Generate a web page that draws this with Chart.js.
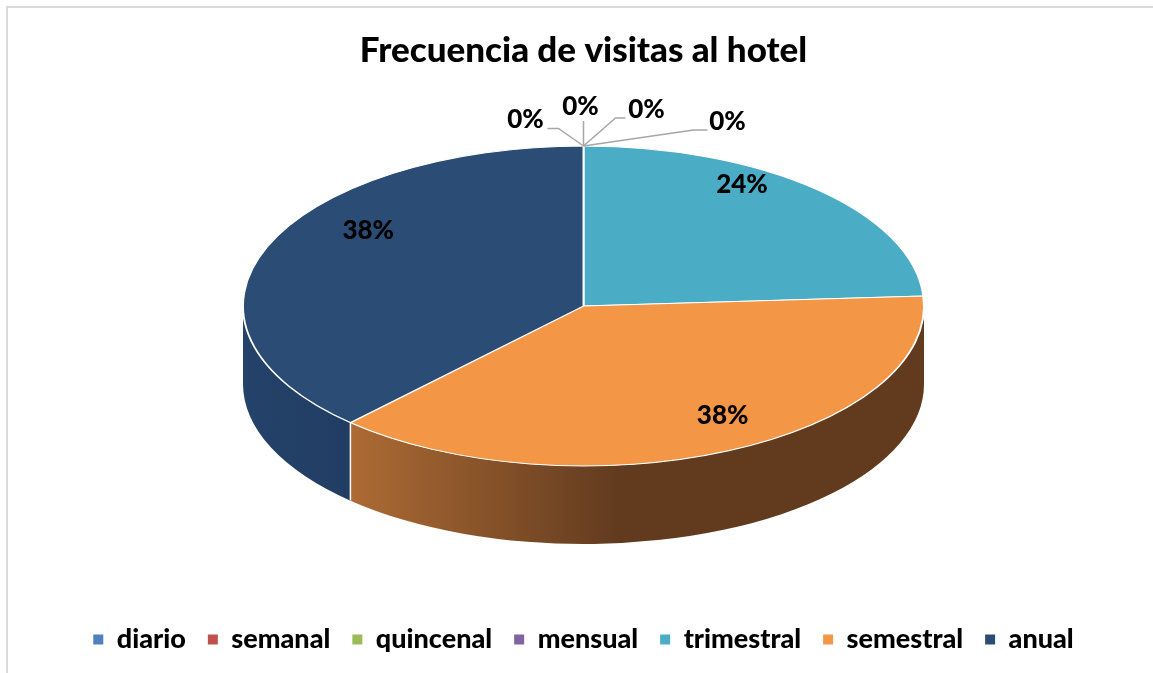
<!DOCTYPE html>
<html><head><meta charset="utf-8">
<script src="https://cdn.jsdelivr.net/npm/chart.js@4.4.1/dist/chart.umd.min.js"></script>
<style>
html,body{margin:0;padding:0;background:#fff;overflow:hidden;}
#wrap{position:absolute;left:0;top:0;width:1153px;height:673px;}
#frame{position:absolute;left:6px;top:6px;width:1170px;height:690px;border-left:2px solid #d9d9d9;border-top:2px solid #d9d9d9;pointer-events:none;}
</style></head><body>
<div id="wrap"><canvas id="c" width="1153" height="673"></canvas></div>
<div id="frame"></div>
<script>
// ---- data ----
const titleText = 'Frecuencia de visitas al hotel';
const categories = ['diario', 'semanal', 'quincenal', 'mensual', 'trimestral', 'semestral', 'anual'];
const values = [0, 0, 0, 0, 24, 38, 38];
const topColors = ['#4F81BD', '#C0504D', '#9BBB59', '#8064A2', '#4BACC6', '#F39646', '#2B4C74'];
const sideLight = ['#3F6797', '#9A403E', '#7C9647', '#665082', '#3C8A9E', '#CB7E3D', '#24426A'];
const sideDark  = ['#2A4566', '#672B29', '#536430', '#443657', '#285C6A', '#623B1F', '#1A314F'];

// ---- layout (not data) ----
const GEOM = { rx: 340.5, ry: 160, depth: 78, centerShift: -36 };
// label placement: perspective-like factors for back (upper) and front (lower) half
const LABEL = { persp: -28, backX: 0.68, backY: 0.80, frontX: 0.96, frontY: 0.95 };
const zeroLeaders = [ [[-25,-17.5],[-36,-17.5]], [[0,-25]], [[32,-28],[42,-28]], [[110,-16],[124,-16]] ];
const zeroLabelPos = [[-58,-26],[-3,-39.5],[63,-36],[144,-24]];
const FONT = 'Lato';
const WEIGHT = '900';

const tilt3d = {
  id: 'tilt3d',
  beforeDatasetsDraw(chart) {
    const meta = chart.getDatasetMeta(0);
    const a0 = meta.data[0];
    const r = a0.outerRadius;
    const ex = a0.x, ey = a0.y + GEOM.centerShift;
    const rx = GEOM.rx, ry = GEOM.ry, d = GEOM.depth;
    const ctx = chart.ctx;
    chart.$tilt = { ex, ey, rx, ry, r };
    meta.data.forEach((arc, i) => {
      const a = Math.max(arc.startAngle, 0), b = Math.min(arc.endAngle, Math.PI);
      if (b <= a) return;
      const g = ctx.createLinearGradient(ex - rx, 0, ex + rx, 0);
      g.addColorStop(0, sideLight[i]);
      g.addColorStop(0.55, sideDark[i]);
      g.addColorStop(1, sideDark[i]);
      ctx.beginPath();
      ctx.ellipse(ex, ey, rx, ry, 0, a, b, false);
      ctx.lineTo(ex + rx * Math.cos(b), ey + d + ry * Math.sin(b));
      ctx.ellipse(ex, ey + d, rx, ry, 0, b, a, true);
      ctx.closePath();
      ctx.fillStyle = g;
      ctx.fill();
    });
    ctx.strokeStyle = '#ffffff';
    ctx.lineWidth = 1.5;
    meta.data.forEach((arc) => {
      const s = arc.startAngle;
      if (s > 0 && s < Math.PI) {
        ctx.beginPath();
        ctx.moveTo(ex + rx * Math.cos(s), ey + ry * Math.sin(s));
        ctx.lineTo(ex + rx * Math.cos(s), ey + d + ry * Math.sin(s));
        ctx.stroke();
      }
    });
    ctx.save();
    ctx.translate(ex, ey);
    ctx.scale(rx / r, ry / r);
    ctx.translate(-a0.x, -a0.y);
  },
  afterDatasetsDraw(chart) {
    const ctx = chart.ctx;
    ctx.restore();
    const t = chart.$tilt;
    const meta = chart.getDatasetMeta(0);
    const total = values.reduce((s, v) => s + v, 0);
    ctx.save();
    ctx.font = WEIGHT + ' 26px ' + FONT;
    ctx.fillStyle = '#000';
    ctx.textAlign = 'center';
    ctx.textBaseline = 'middle';
    let z = 0;
    meta.data.forEach((arc, i) => {
      const pct = Math.round(values[i] / total * 100) + '%';
      if (values[i] > 0) {
        const m = (arc.startAngle + arc.endAngle) / 2;
        const front = Math.sin(m) > 0;
        const kx = front ? LABEL.frontX : LABEL.backX;
        const ky = front ? LABEL.frontY : LABEL.backY;
        const x = t.ex + t.rx * kx * Math.cos(m);
        const y = t.ey + LABEL.persp + t.ry * ky * Math.sin(m);
        ctx.fillText(pct, x, y);
      } else {
        const ax = t.ex + t.rx * Math.cos(arc.startAngle);
        const ay = t.ey + t.ry * Math.sin(arc.startAngle);
        const pts = zeroLeaders[z];
        ctx.strokeStyle = '#A6A6A6';
        ctx.lineWidth = 1.5;
        ctx.beginPath();
        ctx.moveTo(ax, ay);
        pts.forEach(p => ctx.lineTo(ax + p[0], ay + p[1]));
        ctx.stroke();
        const lp = zeroLabelPos[z];
        ctx.fillText(pct, ax + lp[0], ay + lp[1]);
        z++;
      }
    });
    ctx.restore();
  }
};

const defaultGen = Chart.overrides.pie.plugins.legend.labels.generateLabels;

new Chart(document.getElementById('c'), {
  type: 'pie',
  data: {
    labels: categories,
    datasets: [{
      data: values,
      backgroundColor: topColors,
      borderColor: '#ffffff',
      borderWidth: 1.5
    }]
  },
  options: {
    responsive: false,
    animation: false,
    events: [],
    layout: { padding: { left: 14, right: 0, top: 0, bottom: 10 } },
    plugins: {
      tooltip: { enabled: false },
      title: {
        display: true,
        text: titleText,
        color: '#000',
        font: { family: FONT, weight: WEIGHT, size: 35 },
        padding: { top: 30, bottom: 8 }
      },
      legend: {
        position: 'bottom',
        labels: {
          usePointStyle: true,
          pointStyle: 'rect',
          boxWidth: 10,
          boxHeight: 10,
          padding: 22,
          color: '#000',
          font: { family: FONT, weight: WEIGHT, size: 27 },
          generateLabels(chart) {
            return defaultGen(chart).map(it => Object.assign(it, { lineWidth: 0, strokeStyle: it.fillStyle }));
          }
        }
      }
    }
  },
  plugins: [tilt3d]
});
</script>
</body></html>
